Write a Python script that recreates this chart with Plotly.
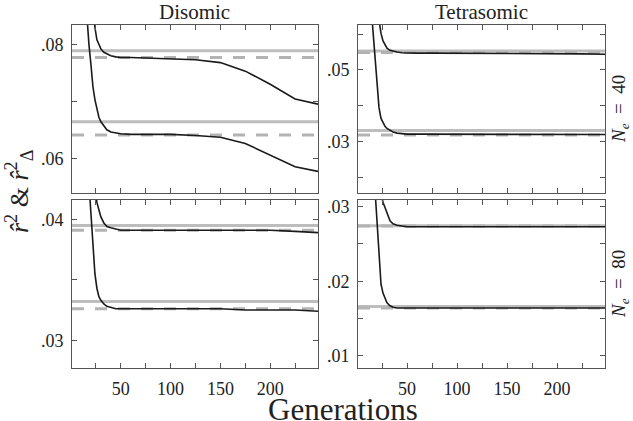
import plotly.graph_objects as go
from plotly.subplots import make_subplots

# Generations at which curves are read
gens = [12, 16, 18, 20, 22, 24, 26, 28, 30, 33, 36, 40, 45, 50, 60, 75, 100, 125, 150, 175, 200, 225, 248]

# Disomic, Ne=40
dis40_hi = [.095, .095, .095, .092, .087, .0830, .0808, .0798, .0792, .0786, .0783, .0780, .0778, .0777, .0777, .0776, .0775, .0773, .0768, .0753, .0730, .0704, .0695]
dis40_lo = [.095, .0840, .0800, .0765, .0726, .0703, .0685, .0672, .0664, .0656, .0650, .0646, .0644, .0643, .0642, .0642, .0642, .0640, .0637, .0626, .0605, .0585, .0577]
# Tetrasomic, Ne=40
tet40_hi = [.075, .075, .075, .075, .0640, .0602, .0581, .0569, .0561, .0555, .0552, .0550, .0548, .0547, .0547, .0547, .0547, .0547, .0547, .0546, .0546, .0545, .0544]
tet40_lo = [.075, .0610, .0515, .0445, .0395, .0365, .0352, .0343, .0337, .0331, .0327, .0324, .0322, .0321, .0321, .0321, .0321, .0321, .0320, .0320, .0320, .0320, .0320]
# Disomic, Ne=80
dis80_hi = [.046, .046, .046, .046, .046, .0425, .0414, .0408, .0402, .0397, .0394, .0393, .0392, .0391, .0391, .0391, .0391, .0391, .0391, .0391, .0391, .0390, .0389]
dis80_lo = [.050, .046, .0430, .0405, .0376, .0355, .0343, .0336, .0333, .0330, .0328, .0327, .0326, .0326, .0326, .0326, .0326, .0326, .0326, .0325, .0325, .0325, .0324]
# Tetrasomic, Ne=80
tet80_hi = [.040, .040, .040, .040, .040, .0318, .0306, .0299, .0292, .0281, .0277, .0275, .0274, .0273, .0273, .0273, .0273, .0273, .0273, .0273, .0273, .0273, .0273]
tet80_lo = [.045, .036, .0330, .0280, .0230, .0196, .0184, .0177, .0171, .0167, .0165, .0164, .0164, .0164, .0164, .0164, .0164, .0164, .0164, .0164, .0164, .0164, .0164]

# Expected values (solid = r^2, dashed = r^2_Delta)
ref_solid = {(1, 1): [.0789, .0664], (1, 2): [.0553, .0331], (2, 1): [.0395, .0332], (2, 2): [.02745, .0166]}
ref_dash = {(1, 1): [.0777, .0641], (1, 2): [.0549, .0319], (2, 1): [.0391, .0326], (2, 2): [.0274, .0164]}

col_titles = ["Disomic", "Tetrasomic"]
row_labels = ["<i>N</i><sub><i>e</i></sub>&nbsp;&nbsp;=&nbsp;&nbsp;40", "<i>N</i><sub><i>e</i></sub>&nbsp;&nbsp;=&nbsp;&nbsp;80"]

x_ticks = [25, 50, 75, 100, 125, 150, 175, 200, 225]
x_text = ["", "50", "", "100", "", "150", "", "200", ""]

y_ranges = {(1, 1): [.0539, .0834], (1, 2): [.01569, .06255], (2, 1): [.0277, .0416], (2, 2): [.00835, .0309]}
y_ticks = {(1, 1): [.06, .07, .08], (1, 2): [.02, .03, .04, .05, .06], (2, 1): [.03, .035, .04], (2, 2): [.01, .015, .02, .025, .03]}
y_text = {(1, 1): [".06", "", ".08"], (1, 2): ["", ".03", "", ".05", ""], (2, 1): [".03", "", ".04"], (2, 2): [".01", "", ".02", "", ".03"]}

curves = {(1, 1): [dis40_hi, dis40_lo], (1, 2): [tet40_hi, tet40_lo], (2, 1): [dis80_hi, dis80_lo], (2, 2): [tet80_hi, tet80_lo]}

FONT = "Liberation Serif"
AX = "#555555"

fig = make_subplots(rows=2, cols=2)

for (r, c), ys in curves.items():
    for y in ys:
        fig.add_trace(go.Scatter(x=gens, y=y, mode="lines", line=dict(color="#1a1a1a", width=1.6),
                                 showlegend=False, hoverinfo="skip"), row=r, col=c)

for (r, c) in curves:
    for v in ref_solid[(r, c)]:
        fig.add_hline(y=v, row=r, col=c, line=dict(color="#bdbdbd", width=3), layer="below",
                      exclude_empty_subplots=False)
    for v in ref_dash[(r, c)]:
        fig.add_hline(y=v, row=r, col=c, line=dict(color="#b3b3b3", width=3, dash="12px,11px"), layer="below",
                      exclude_empty_subplots=False)

xdom = {1: [72 / 633, 318 / 633], 2: [358 / 633, 605 / 633]}
ydom = {1: [1 - 193 / 421, 1 - 25 / 421], 2: [1 - 368 / 421, 1 - 200 / 421]}

for (r, c) in curves:
    common = dict(showline=True, linecolor=AX, linewidth=1, mirror="allticks", ticks="inside",
                  ticklen=5, tickcolor=AX, tickwidth=1, showgrid=False, zeroline=False, automargin=False,
                  tickfont=dict(family=FONT, size=18, color="#222222"))
    fig.update_xaxes(range=[1, 248], domain=xdom[c], tickmode="array", tickvals=x_ticks,
                     ticktext=x_text if r == 2 else [""] * len(x_ticks),
                     ticklabelstandoff=4, row=r, col=c, **common)
    fig.update_yaxes(range=y_ranges[(r, c)], domain=ydom[r], tickmode="array", tickvals=y_ticks[(r, c)],
                     ticktext=y_text[(r, c)], ticklabelstandoff=4, row=r, col=c, **common)

annotations = []
for i, t in enumerate(col_titles):
    annotations.append(dict(text=t, x=sum(xdom[i + 1]) / 2, y=1 - 12 / 421, xref="paper", yref="paper",
                            showarrow=False, xanchor="center", yanchor="middle",
                            font=dict(family=FONT, size=21, color="#222222")))
for i, t in enumerate(row_labels):
    annotations.append(dict(text=t, x=620 / 633, y=sum(ydom[i + 1]) / 2, xref="paper", yref="paper",
                            showarrow=False, xanchor="center", yanchor="middle", textangle=-90,
                            font=dict(family=FONT, size=19, color="#222222")))
annotations.append(dict(text="Generations", x=343 / 633, y=1 - 409 / 421, xref="paper", yref="paper",
                        showarrow=False, xanchor="center", yanchor="middle",
                        font=dict(family=FONT, size=31, color="#222222")))
annotations.append(dict(text="<i>r̂</i><sup>2</sup> &amp; <i>r̂</i><sup>2</sup><sub>Δ</sub>",
                        x=19 / 633, y=1 - 191 / 421, xref="paper", yref="paper",
                        showarrow=False, xanchor="center", yanchor="middle", textangle=-90,
                        font=dict(family=FONT, size=26, color="#222222")))

fig.update_layout(width=633, height=421, margin=dict(l=0, r=0, t=0, b=0, autoexpand=False),
                  plot_bgcolor="white", paper_bgcolor="white", annotations=annotations,
                  showlegend=False)

fig.write_html("out.html", config={"displayModeBar": False},
               post_script="document.body.style.margin='0';document.body.style.overflow='hidden';")
